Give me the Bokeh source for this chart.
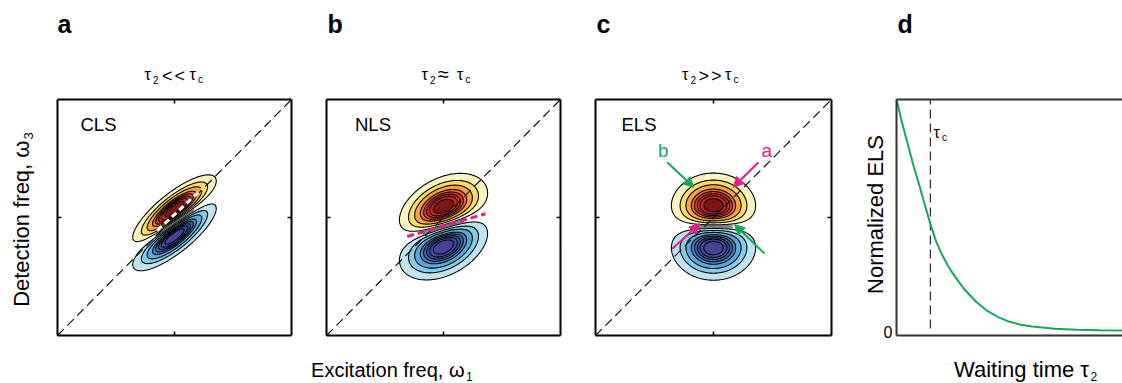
import numpy as np
from bokeh.plotting import figure
from bokeh.layouts import row
from bokeh.models import Label, Arrow, NormalHead, LinearAxis, FixedTicker, Range1d
from bokeh.embed import file_html
from bokeh.resources import INLINE

# ---------------- data ----------------
panel_letters = ["a", "b", "c", "d"]
panel_tags = ["CLS", "NLS", "ELS"]

lobe_x0 = [0.0, 0.0, 0.0]
pos_lobe_y = [0.06, 0.07, 0.07]
neg_lobe_y = [-0.15, -0.225, -0.225]
sigma_exc = [0.18, 0.19, 0.18]     # width along excitation axis
sigma_det = [0.15, 0.15, 0.15]     # width along detection axis
correlation = [0.8, 0.38, 0.0]     # frequency correlation (tau2 << tc, ~tc, >> tc)

contour_levels_pos = [0.14, 0.29, 0.43, 0.58, 0.67, 0.75, 0.82, 0.9, 1.01]
contour_levels_neg = [-1.01, -0.9, -0.82, -0.75, -0.67, -0.58, -0.43, -0.29, -0.14]
colors_pos = ["#FBF6C0", "#FDDC62", "#F8A242", "#F06A2D", "#E8392A", "#DF2E29", "#D02627", "#7E1416"]
colors_neg = ["#4B3F9C", "#3F4CA2", "#3E58AA", "#3F6AB5", "#4A86C6", "#5BA9DB", "#82CDEA", "#C0E4EE"]
nodal_levels = [-0.11, -0.08, -0.05, -0.02, 0.02, 0.05, 0.08, 0.11]

# panel d: normalized ELS decay vs waiting time
waiting_time = [0, 0.025, 0.05, 0.075, 0.1, 0.125, 0.15, 0.175, 0.2, 0.225, 0.25, 0.275,
                0.3, 0.35, 0.4, 0.45, 0.5, 0.55, 0.6, 0.7, 0.8, 0.9, 1.0]
normalized_els = [1.0, 0.9, 0.81, 0.72, 0.64, 0.555, 0.472, 0.40, 0.345, 0.30, 0.262, 0.228,
                  0.196, 0.145, 0.105, 0.078, 0.058, 0.046, 0.038, 0.029, 0.024, 0.022, 0.021]
tau_c = 0.15

# ---------------- layout ----------------
H_TOTAL = 383
TOP, FH = 99, 236
FONT = "Liberation Sans"
GREEN = "#17A65A"
MAGENTA = "#E8198B"
BASE_SHIFT = 0.34   # label anchor correction (fraction of font size)

# (figure width, panel box left (page px), panel box width, page x origin)
geo = [(300, 57, 234, 0), (270, 326, 234, 300), (280, 595, 236, 570), (272, 896, 226, 850)]
box_ranges = [((-1, 1), (-1, 1))] * 3 + [((0, 1), (0, 1))]


def conv(i, px, py):
    w, L, W, x0 = geo[i]
    (xa, xb), (ya, yb) = box_ranges[i]
    x = xa + (px - L) / W * (xb - xa)
    y = yb - (py - TOP) / FH * (yb - ya)
    return x, y


def make_fig(i):
    w, L, W, x0 = geo[i]
    xs, ytop = conv(i, x0, 0)
    xe, ybot = conv(i, x0 + w, H_TOTAL)
    p = figure(width=w, height=H_TOTAL, x_range=Range1d(xs, xe), y_range=Range1d(ybot, ytop),
               toolbar_location=None, output_backend="svg", x_axis_type=None, y_axis_type=None,
               min_border=0, min_border_left=0, min_border_right=0,
               min_border_top=0, min_border_bottom=0)
    p.grid.visible = False
    p.outline_line_color = None
    p.background_fill_color = "white"
    p.border_fill_color = "white"
    return p


def text(p, i, s, px, py, size, align="left", angle=0,
         color="black", style="normal", font=FONT):
    if angle == 0:
        py = py - BASE_SHIFT * size
    else:
        px = px - BASE_SHIFT * size
    x, y = conv(i, px, py)
    p.add_layout(Label(x=x, y=y, text=s, text_font=font, text_font_size=f"{size}px",
                       text_align=align, text_baseline="alphabetic", angle=angle,
                       text_color=color, text_font_style=style))


def box_axis(p, side, loc, ticks, bounds, color="black", width=2):
    ax = LinearAxis(fixed_location=loc, ticker=FixedTicker(ticks=ticks), bounds=bounds,
                    major_tick_in=4, major_tick_out=0,
                    major_tick_line_width=1.5, major_tick_line_color=color,
                    minor_tick_line_color=None, axis_line_color=color, axis_line_width=width,
                    major_label_text_font_size="0px", major_label_standoff=0,
                    major_label_overrides={t: "" for t in ticks})
    p.add_layout(ax, side)


grid = np.linspace(-1, 1, 321)
X, Y = np.meshgrid(grid, grid)


def lobe(xx, yy, x0, y0, s1, s3, r):
    u = (xx - x0) / s1
    v = (yy - y0) / s3
    return np.exp(-(u * u - 2 * r * u * v + v * v) / (2 * (1 - r * r)))


titles = [
    [("τ", 144, 79, 16), ("2", 152.5, 82.5, 10), ("<", 161.5, 82, 18), ("<", 174, 82, 18),
     ("τ", 189, 79, 16), ("c", 197.5, 82.5, 10)],
    [("τ", 421, 79, 16), ("2", 429.5, 82.5, 10), ("≈", 437.5, 80, 20),
     ("τ", 456.5, 79, 16), ("c", 465, 82.5, 10)],
    [("τ", 681.5, 79, 16), ("2", 690, 82.5, 10), (">", 698, 82, 18), (">", 710.5, 82, 18),
     ("τ", 724.5, 79, 16), ("c", 733, 82.5, 10)],
]
tag_pos = [(80, 130.5), (354.5, 130.5), (621, 130.5)]
letter_x = [57, 327, 596, 897]

figs = []
for i in range(3):
    p = make_fig(i)
    box_axis(p, "left", -1, [0], (-1, 1))
    box_axis(p, "right", 1, [0], (-1, 1))
    box_axis(p, "above", 1, [0], (-1, 1))
    box_axis(p, "below", -1, [0], (-1, 1))

    gp = lobe(X, Y, lobe_x0[i], pos_lobe_y[i], sigma_exc[i], sigma_det[i], correlation[i])
    gn = lobe(X, Y, lobe_x0[i], neg_lobe_y[i], sigma_exc[i], sigma_det[i], correlation[i])
    Z = gp - gn
    Z = Z / Z.max()
    p.contour(grid, grid, Z, levels=contour_levels_pos, fill_color=colors_pos,
              line_color="black", line_width=1.1)
    p.contour(grid, grid, Z, levels=contour_levels_neg, fill_color=colors_neg,
              line_color="black", line_width=1.1)

    # dense lines across the nodal region between the lobes
    ym = 0.5 * (pos_lobe_y[i] + neg_lobe_y[i])
    s_mid = (lobe(lobe_x0[i], ym, lobe_x0[i], pos_lobe_y[i], sigma_exc[i], sigma_det[i], correlation[i])
             + lobe(lobe_x0[i], ym, lobe_x0[i], neg_lobe_y[i], sigma_exc[i], sigma_det[i], correlation[i]))
    S = gp + gn
    Zh = np.where((S > 0.65 * s_mid) & (np.abs(Z) < 0.14), Z, np.nan)
    p.contour(grid, grid, Zh, levels=nodal_levels, line_color="#555555", line_width=0.6)

    # diagonal
    p.line(x=[-1, 1], y=[-1, 1], line_color="#111111", line_width=1.2, line_dash="9 5")

    if i == 0:
        xa, ya = conv(0, 156.7, 230)
        xb, yb = conv(0, 201.7, 188.3)
        p.line(x=[xa, xb], y=[ya, yb], line_color="white", line_width=3, line_dash="6 4")
    if i == 1:
        xa, ya = conv(1, 406.7, 236)
        xb, yb = conv(1, 485, 213.3)
        p.line(x=[xa, xb], y=[ya, yb], line_color=MAGENTA, line_width=3, line_dash="7 4")
    if i == 2:
        arrows = [((666.7, 161.7), (693.3, 186.7), GREEN), ((764, 253), (734, 224), GREEN),
                  ((758, 161.7), (732.7, 186.7), MAGENTA), ((671.7, 248.3), (699.3, 223.3), MAGENTA)]
        for (s0, s1, c) in arrows:
            xs, ys = conv(2, s0[0], s0[1])
            xe, ye = conv(2, s1[0], s1[1])
            p.add_layout(Arrow(x_start=xs, y_start=ys, x_end=xe, y_end=ye, line_color=c,
                               line_width=2,
                               end=NormalHead(size=10, fill_color=c, line_color=c, line_width=1)))
        text(p, 2, "b", 657.5, 156, 19, color=GREEN)
        text(p, 2, "a", 761, 156, 19, color=MAGENTA)

    text(p, i, panel_tags[i], tag_pos[i][0], tag_pos[i][1], 18.5)
    text(p, i, panel_letters[i], letter_x[i], 31.5, 25, style="bold")
    for (s, px, py, sz) in titles[i]:
        text(p, i, s, px, py, sz)

    if i == 0:
        text(p, 0, "Detection freq, ω", 28, 140, 22, align="right", angle=np.pi / 2)
        text(p, 0, "3", 32, 139, 13, align="left", angle=np.pi / 2)
    if i == 1:
        text(p, 1, "Excitation freq, ω", 464, 376, 20, align="right")
        text(p, 1, "1", 465.5, 380, 12)
    figs.append(p)

# ---------------- panel d ----------------
p = make_fig(3)
box_axis(p, "left", 0, [], (0, 1), color="#333333")
box_axis(p, "below", 0, [], (0, 1.2), color="#333333")
box_axis(p, "above", 1, [], (0, 1.2), color="#333333")
p.segment(x0=[tau_c], y0=[0.03], x1=[tau_c], y1=[1.0], line_color="#333333",
          line_width=1.3, line_dash="9 5")
p.line(x=waiting_time, y=normalized_els, line_color=GREEN, line_width=2)
text(p, 3, "d", 897, 31.5, 25, style="bold")
text(p, 3, "τ", 933, 137.5, 16)
text(p, 3, "c", 941.5, 140.5, 10)
text(p, 3, "0", 892, 337, 16, align="right")
text(p, 3, "Normalized ELS", 882, 214, 22, align="center", angle=np.pi / 2)
text(p, 3, "Waiting time τ", 1088.5, 376, 22, align="right")
text(p, 3, "2", 1090, 380, 12)
figs.append(p)

layout = row(*figs, spacing=0)
open("out.html", "w").write(file_html(layout, INLINE))
